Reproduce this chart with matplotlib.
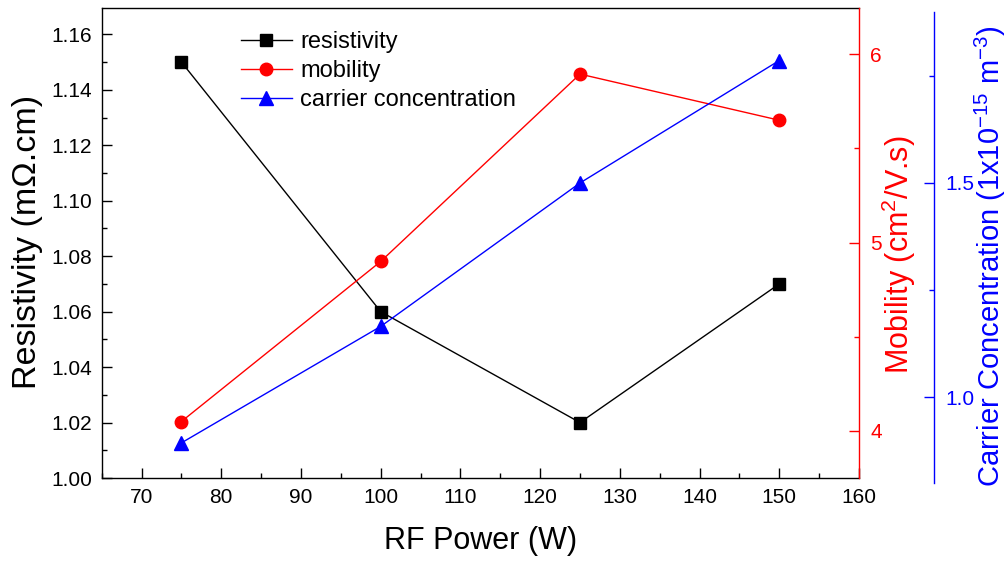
import matplotlib
matplotlib.use('Agg')
import matplotlib.pyplot as plt
from matplotlib.ticker import MultipleLocator, FixedLocator
from matplotlib.lines import Line2D

# ---- data ----
rf_power = [75, 100, 125, 150]
resistivity = [1.15, 1.06, 1.02, 1.07]
mobility = [4.05, 4.90, 5.895, 5.65]
carrier_conc = [0.893, 1.165, 1.50, 1.786]
x_ticks = [70, 80, 90, 100, 110, 120, 130, 140, 150, 160]
res_ticks = [1.00, 1.02, 1.04, 1.06, 1.08, 1.10, 1.12, 1.14, 1.16]
mob_ticks = [4, 5, 6]
cc_ticks = [1.0, 1.5]

plt.rcParams['font.family'] = ['Liberation Sans', 'DejaVu Sans']
plt.rcParams['mathtext.fontset'] = 'custom'
plt.rcParams['mathtext.rm'] = 'Liberation Sans'
plt.rcParams['mathtext.it'] = 'Liberation Sans:italic'
plt.rcParams['mathtext.bf'] = 'Liberation Sans:bold'

RED = '#ff0000'
BLUE = '#0000ff'
TICK_FS = 15

W, H = 1007, 563
fig = plt.figure(figsize=(W / 100, H / 100), dpi=100)
L, R, T, B = 101.7, 859, 8, 478
ax1 = fig.add_axes([L / W, 1 - B / H, (R - L) / W, (B - T) / H])
ax2 = ax1.twinx()
bT, bB = 11.7, 482.7
ax3 = fig.add_axes([L / W, 1 - bB / H, (R - L) / W, (bB - bT) / H])
ax3.patch.set_visible(False)

# ---- plots ----
ax1.plot(rf_power, resistivity, color='black', lw=1.0, marker='s', ms=8, mec='black', mfc='black')
ax2.plot(rf_power, mobility, color=RED, lw=1.0, marker='o', ms=9, mec=RED, mfc=RED)
ax3.plot(rf_power, carrier_conc, color=BLUE, lw=1.0, marker='^', ms=10, mec=BLUE, mfc=BLUE)

for ax in (ax1, ax2, ax3):
    ax.set_xlim(65, 160)
ax1.set_ylim(1.00, 1.1695)
ax2.set_ylim(3.75, 6.246)
ax3.set_ylim(0.8, 1.9)

# ---- ax1 ----
ax1.xaxis.set_major_locator(FixedLocator(x_ticks))
ax1.xaxis.set_minor_locator(MultipleLocator(5))
ax1.yaxis.set_major_locator(FixedLocator(res_ticks))
ax1.yaxis.set_minor_locator(MultipleLocator(0.01))
ax1.set_yticklabels([f'{v:.2f}' for v in res_ticks])
ax1.tick_params(which='both', direction='in', top=False, right=False, width=1.0, labelsize=TICK_FS)
ax1.tick_params(which='major', length=7)
ax1.tick_params(which='minor', length=3.6)
ax1.tick_params(axis='x', pad=7)
ax1.tick_params(axis='y', pad=7)
for s in ax1.spines.values():
    s.set_linewidth(1.0)
ax1.spines['right'].set_visible(False)

# ---- ax2 ----
ax2.yaxis.set_major_locator(FixedLocator(mob_ticks))
ax2.yaxis.set_minor_locator(MultipleLocator(0.5))
ax2.tick_params(which='both', direction='in', colors=RED, width=1.0, labelsize=TICK_FS, pad=8)
ax2.tick_params(which='major', length=7)
ax2.tick_params(which='minor', length=3.6)
for k in ('left', 'top', 'bottom'):
    ax2.spines[k].set_visible(False)
ax2.spines['right'].set_color(RED)
ax2.spines['right'].set_linewidth(1.0)

# ---- ax3 ----
ax3.yaxis.tick_right()
ax3.yaxis.set_label_position('right')
ax3.xaxis.set_visible(False)
for k in ('left', 'top', 'bottom'):
    ax3.spines[k].set_visible(False)
ax3.spines['right'].set_position(('axes', (934.3 - L) / (R - L)))
ax3.spines['right'].set_color(BLUE)
ax3.spines['right'].set_linewidth(1.0)
ax3.yaxis.set_major_locator(FixedLocator(cc_ticks))
ax3.yaxis.set_minor_locator(MultipleLocator(0.25))
ax3.set_yticklabels([f'{v:.1f}' for v in cc_ticks])
ax3.tick_params(which='both', direction='in', colors=BLUE, width=1.0, labelsize=TICK_FS, pad=8)
ax3.tick_params(which='major', length=7)
ax3.tick_params(which='minor', length=3.6)

# ---- labels ----
ax1.set_xlabel('RF Power (W)', fontsize=22)
ax1.xaxis.set_label_coords(0.5, (B - 541) / (B - T))
ax1.xaxis.label.set_va('center')
ax1.set_ylabel('Resistivity (m\u03a9.cm)', fontsize=24.5)
ax1.yaxis.set_label_coords((28 - L) / (R - L), (B - 242) / (B - T))
ax1.yaxis.label.set_va('center')
ax2.set_ylabel('Mobility (cm$^{2}$/V.s)', fontsize=22, color=RED)
ax2.yaxis.set_label_coords((899 - L) / (R - L), (B - 255) / (B - T))
ax2.yaxis.label.set_va('center')
ax3.set_ylabel('Carrier Concentration (1x10$^{-15}$ m$^{-3}$)', fontsize=21, color=BLUE)
ax3.yaxis.set_label_coords((990 - L) / (R - L), (bB - 256) / (bB - bT))
ax3.yaxis.label.set_va('center')

# ---- legend ----
handles = [
    Line2D([], [], color='black', lw=1.0, marker='s', ms=8),
    Line2D([], [], color=RED, lw=1.0, marker='o', ms=9),
    Line2D([], [], color=BLUE, lw=1.0, marker='^', ms=10),
]
labels = ['resistivity', 'mobility', 'carrier concentration']
ax3.legend(handles, labels, loc='upper left', bbox_to_anchor=(241 / W, 1 - 31 / H),
           bbox_transform=fig.transFigure, frameon=False, fontsize=17, borderpad=0,
           handlelength=2.15, handletextpad=0.36, labelspacing=0.3, borderaxespad=0)

fig.savefig('out.png', dpi=100)
